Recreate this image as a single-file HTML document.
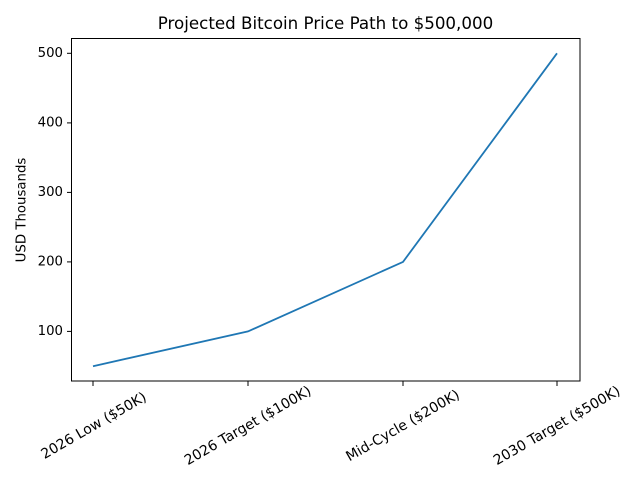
<!DOCTYPE html>
<html><head><meta charset="utf-8"><style>body{margin:0;background:#fff}svg{display:block}</style></head>
<body>
<svg width="640" height="480" xmlns="http://www.w3.org/2000/svg" font-family="DejaVu Sans, Liberation Sans, sans-serif">
<rect width="640" height="480" fill="#fff"/>
<text x="325.5" y="29" font-size="16.7" text-anchor="middle">Projected Bitcoin Price Path to $500,000</text>
<polyline points="93,366.2 248,331.4 403,261.9 557,53.3" fill="none" stroke="#1f77b4" stroke-width="1.8"/>
<rect x="71.5" y="38.5" width="508.5" height="342.5" fill="none" stroke="#000" stroke-width="1"/>
<g stroke="#000" stroke-width="1">
<line x1="71.5" x2="67" y1="331.4" y2="331.4"/>
<line x1="71.5" x2="67" y1="261.9" y2="261.9"/>
<line x1="71.5" x2="67" y1="192.4" y2="192.4"/>
<line x1="71.5" x2="67" y1="122.9" y2="122.9"/>
<line x1="71.5" x2="67" y1="53.3" y2="53.3"/>
<line x1="93" x2="93" y1="381" y2="386"/>
<line x1="248" x2="248" y1="381" y2="386"/>
<line x1="403" x2="403" y1="381" y2="386"/>
<line x1="557" x2="557" y1="381" y2="386"/>
</g>
<g font-size="13.3" text-anchor="end" dominant-baseline="central">
<text x="63" y="331.4">100</text>
<text x="63" y="261.9">200</text>
<text x="63" y="192.4">300</text>
<text x="63" y="122.9">400</text>
<text x="63" y="53.3">500</text>
</g>
<text transform="translate(22,210) rotate(-90)" font-size="13.3" text-anchor="middle" dominant-baseline="central">USD Thousands</text>
<g font-size="14" text-anchor="middle" dominant-baseline="central">
<text transform="translate(94,426) rotate(-30)">2026 Low ($50K)</text>
<text transform="translate(248,426) rotate(-30)">2026 Target ($100K)</text>
<text transform="translate(403,426) rotate(-30)">Mid-Cycle ($200K)</text>
<text transform="translate(557,426) rotate(-30)">2030 Target ($500K)</text>
</g>
</svg>
</body></html>
